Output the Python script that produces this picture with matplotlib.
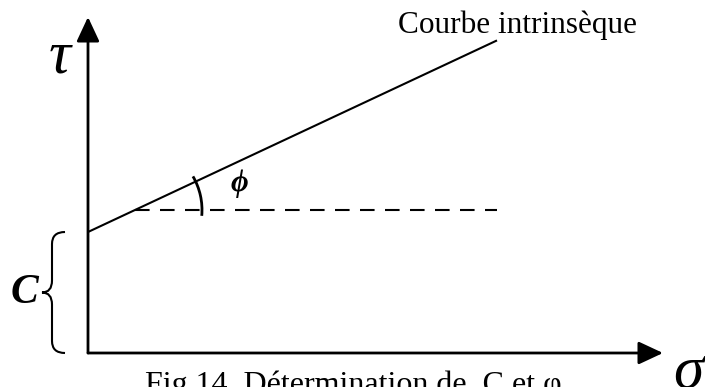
import matplotlib
matplotlib.use("Agg")
import matplotlib.pyplot as plt
import numpy as np
from matplotlib.path import Path
from matplotlib.patches import PathPatch, Arc

# ---- data (diagram units: origin at axes crossing, units ~ pixels) ----
cohesion_c = 121.0          # intercept on tau axis
phi_deg = 25.1              # friction angle
sigma_end = 409.0           # sigma extent of the intrinsic curve
dash_start = 47.0           # sigma where dashed reference starts
dash_end = 409.0            # sigma where dashed reference ends
arc_radius = 67.0
axis_x_len = 575.0
axis_y_len = 336.0
labels = {"tau": "τ", "sigma": "σ", "c": "C", "phi": "ϕ",
          "curve": "Courbe intrinsèque",
          "caption": "Fig.14. Détermination de  C et φ"}

W, H = 705, 387
ox, oy = 88, 353  # pixel position of origin
fig = plt.figure(figsize=(W / 100, H / 100), dpi=100)
ax = fig.add_axes([0, 0, 1, 1])
ax.set_xlim(-ox, W - ox)
ax.set_ylim(oy - H, oy)
ax.set_aspect("auto")
ax.axis("off")

k = np.tan(np.radians(phi_deg))

# axes with arrows
ax.annotate("", xy=(axis_x_len, 0), xytext=(0, 0),
            arrowprops=dict(arrowstyle="-|>,head_length=1.5,head_width=0.7",
                            lw=2, color="black", shrinkA=0, shrinkB=0))
ax.annotate("", xy=(0, axis_y_len), xytext=(0, 0),
            arrowprops=dict(arrowstyle="-|>,head_length=1.5,head_width=0.7",
                            lw=2, color="black", shrinkA=0, shrinkB=0))

# intrinsic curve
xs = np.array([0, sigma_end])
ax.plot(xs, cohesion_c + k * xs, color="black", lw=1.5, solid_capstyle="butt")

# dashed horizontal
y_d = cohesion_c + k * dash_start
ax.plot([dash_start, dash_end], [y_d, y_d], color="black", lw=1.5,
        dashes=(7, 5))

# angle arc
ax.add_patch(Arc((dash_start, y_d), 2 * arc_radius, 2 * arc_radius,
                 theta1=-5, theta2=phi_deg + 5, color="black", lw=2))

# brace for c
by0, by1 = 0, cohesion_c
ym = (by0 + by1) / 2
verts = [(-23, by1), (-36, by1), (-36, by1 - 12),
         (-36, ym + 12),
         (-36, ym), (-46, ym),
         (-36, ym), (-36, ym - 12),
         (-36, by0 + 12),
         (-36, by0), (-23, by0)]
codes = [Path.MOVETO, Path.CURVE3, Path.CURVE3,
         Path.LINETO,
         Path.CURVE3, Path.CURVE3,
         Path.CURVE3, Path.CURVE3,
         Path.LINETO,
         Path.CURVE3, Path.CURVE3]
ax.add_patch(PathPatch(Path(verts, codes), fill=False, lw=1.5, color="black"))

serif = ["Liberation Serif", "DejaVu Serif"]
ax.text(-28, 295, labels["tau"], family=serif, style="italic", fontsize=44,
        ha="center", va="center")
ax.text(600, -20, labels["sigma"], family=serif, style="italic", fontsize=44,
        ha="center", va="center")
ax.text(-64, 60, labels["c"], family=serif, style="italic", weight="bold",
        fontsize=30, ha="center", va="center")
ax.text(151, 170, labels["phi"], family=serif, style="italic", weight="bold",
        fontsize=22, ha="center", va="center")
ax.text(430, 328, labels["curve"], family=serif, fontsize=22.5,
        ha="center", va="center")
ax.text(57, -17, labels["caption"], family=serif, fontsize=23,
        ha="left", va="top")

fig.savefig("out.png", dpi=100)
